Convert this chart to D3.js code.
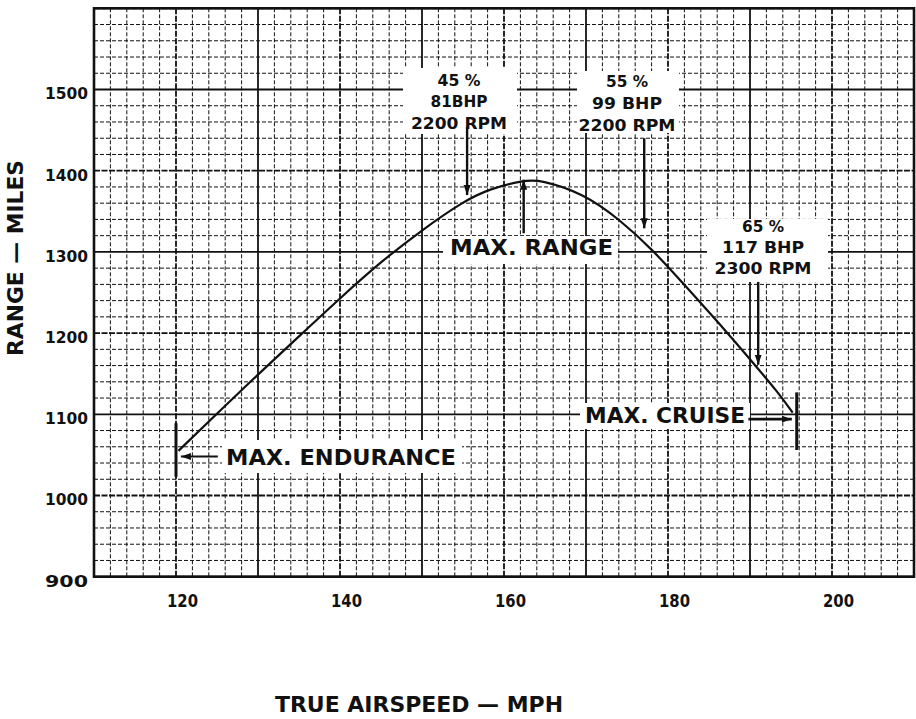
<!DOCTYPE html>
<html>
<head>
<meta charset="utf-8">
<script src="https://cdn.jsdelivr.net/npm/d3@7/dist/d3.min.js"></script>
<style>
  html, body { margin: 0; padding: 0; background: #fff; }
  svg { display: block; }
  text { font-family: "DejaVu Sans", sans-serif; font-weight: bold; fill: #111; }
</style>
</head>
<body>
<svg id="chart" width="916" height="719"></svg>
<script>
// True airspeed (mph) and range (miles) along the range curve
const airspeed = [120.3, 125, 130, 135, 140, 145, 150, 155, 158.3, 162.4, 164.4, 169.7, 174.1, 178.2, 182.3, 187.2, 190.4, 193.5, 195.2];
const rangeMiles = [1055, 1101, 1149, 1196, 1243, 1288, 1327, 1362, 1378, 1388, 1389, 1372, 1340, 1302, 1256, 1201, 1163, 1126, 1102];

// Axis tick labels
const speedTicks = [120, 140, 160, 180, 200];
const rangeTicks = [900, 1000, 1100, 1200, 1300, 1400, 1500];

// Power settings marked on the curve
const powerLines = [
  ["45 %", "81BHP", "2200  RPM"],
  ["55 %", "99  BHP", "2200  RPM"],
  ["65 %", "117  BHP", "2300  RPM"]
];
const powerSpeed = [155.5, 177.1, 191.0];          // arrow speed
const powerArrowFrom = [1454, 1440, 1263];         // arrow tail (miles)
const powerArrowTo = [1370, 1329, 1161];           // arrow tip (miles)

const svg = d3.select("#chart");
const x = d3.scaleLinear().domain([110, 210]).range([94, 914]);
const y = d3.scaleLinear().domain([900, 1600]).range([576.7, 8.3]);

// arrow head
svg.append("defs").append("marker")
  .attr("id", "head").attr("viewBox", "0 0 10 10")
  .attr("refX", 10).attr("refY", 5)
  .attr("markerWidth", 10).attr("markerHeight", 10)
  .attr("markerUnits", "userSpaceOnUse")
  .attr("orient", "auto")
  .append("path").attr("d", "M0,1.5 L10,5 L0,8.5 Z").attr("fill", "#111");

// ---- grid ----
const grid = svg.append("g");
const minorX = d3.range(110, 210.01, 2);
const minorY = d3.range(900, 1600.01, 20);
grid.selectAll(".vx").data(minorX).join("line")
  .attr("x1", d => x(d)).attr("x2", d => x(d))
  .attr("y1", y(1600)).attr("y2", y(900))
  .attr("stroke", "#111")
  .attr("stroke-width", d => d % 10 === 0 ? 1.8 : 1)
  .attr("stroke-dasharray", d => d % 10 === 0 ? (d % 20 === 10 ? null : "6,1.5") : "4,2");
grid.selectAll(".hy").data(minorY).join("line")
  .attr("x1", x(110)).attr("x2", x(210))
  .attr("y1", d => y(d)).attr("y2", d => y(d))
  .attr("stroke", "#111")
  .attr("stroke-width", d => d % 100 === 0 ? 1.8 : 1)
  .attr("stroke-dasharray", d => d % 100 === 0 ? (d % 200 === 100 ? null : "6,1.5") : "4,2");

// frame
svg.append("rect")
  .attr("x", x(110)).attr("y", y(1600))
  .attr("width", x(210) - x(110)).attr("height", y(900) - y(1600))
  .attr("fill", "none").attr("stroke", "#111").attr("stroke-width", 2.6);

// ---- axes (labels only) ----
const yAxis = svg.append("g").attr("transform", `translate(${x(110) - 6},0)`)
  .call(d3.axisLeft(y).tickValues(rangeTicks).tickSize(0).tickPadding(0).tickFormat(d3.format("d")));
yAxis.select(".domain").remove();
yAxis.selectAll("text")
  .attr("dy", "0.62em")
  .style("font-family", "'DejaVu Sans', sans-serif").style("font-weight", "bold")
  .style("font-size", "15px").attr("fill", "#111")
  .attr("textLength", 43).attr("lengthAdjust", "spacingAndGlyphs");

const xAxis = svg.append("g").attr("transform", `translate(6,${y(900) + 18})`)
  .call(d3.axisBottom(x).tickValues(speedTicks).tickSize(0).tickPadding(0).tickFormat(d3.format("d")));
xAxis.select(".domain").remove();
xAxis.selectAll("text")
  .style("font-family", "'DejaVu Sans', sans-serif").style("font-weight", "bold")
  .style("font-size", "17px").attr("fill", "#111")
  .attr("textLength", 31).attr("lengthAdjust", "spacingAndGlyphs");

// axis titles
svg.append("text")
  .attr("transform", `translate(23,258) rotate(-90)`)
  .attr("text-anchor", "middle")
  .style("font-size", "22px")
  .attr("textLength", 196).attr("lengthAdjust", "spacingAndGlyphs")
  .text("RANGE — MILES");
svg.append("text")
  .attr("x", 275).attr("y", 712)
  .style("font-size", "22px")
  .attr("textLength", 288).attr("lengthAdjust", "spacingAndGlyphs")
  .text("TRUE  AIRSPEED — MPH");

// ---- curve ----
const pts = airspeed.map((s, i) => [s, rangeMiles[i]]);
svg.append("path")
  .datum(pts)
  .attr("fill", "none").attr("stroke", "#111").attr("stroke-width", 2.2)
  .attr("d", d3.line().x(d => x(d[0])).y(d => y(d[1])).curve(d3.curveBasis));

// ---- annotations ----
const ann = svg.append("g");

function whiteBox(x0, y0, x1, y1) {
  ann.append("rect").attr("x", x0).attr("y", y0)
    .attr("width", x1 - x0).attr("height", y1 - y0).attr("fill", "#fff");
}
function label(txt, cx, base, size, len, anchor) {
  ann.append("text").attr("x", cx).attr("y", base)
    .attr("text-anchor", anchor || "middle")
    .style("font-size", size + "px")
    .attr("textLength", len).attr("lengthAdjust", "spacingAndGlyphs")
    .text(txt);
}
function arrow(x1, y1, x2, y2, w) {
  ann.append("line").attr("x1", x1).attr("y1", y1).attr("x2", x2).attr("y2", y2)
    .attr("stroke", "#111").attr("stroke-width", w || 2.2)
    .attr("marker-end", "url(#head)");
}
function bar(s, m0, m1) {
  ann.append("line").attr("x1", x(s)).attr("x2", x(s))
    .attr("y1", y(m0)).attr("y2", y(m1))
    .attr("stroke", "#111").attr("stroke-width", 3);
}

// power setting boxes
const boxes = [
  { x0: 403, y0: 68, x1: 517, y1: 134, cx: 459, base: [86, 107, 129], len: [43, 57, 96] },
  { x0: 577, y0: 71, x1: 679, y1: 133, cx: 627, base: [87, 109, 131], len: [42, 70, 97] },
  { x0: 707, y0: 219, x1: 828, y1: 282, cx: 763, base: [232, 253, 274], len: [42, 82, 97] }
];
boxes.forEach((b, i) => {
  whiteBox(b.x0, b.y0, b.x1, b.y1);
  powerLines[i].forEach((t, j) => label(t, b.cx, b.base[j], 16, b.len[j]));
  arrow(x(powerSpeed[i]), y(powerArrowFrom[i]), x(powerSpeed[i]), y(powerArrowTo[i]), 2.4);
});

// maximum range
whiteBox(443, 236, 618, 264);
label("MAX.  RANGE", 450, 255, 21, 163, "start");
arrow(x(162.4), y(1323), x(162.4), y(1389), 2.4);

// maximum endurance
whiteBox(222, 440, 462, 473);
label("MAX.  ENDURANCE", 226, 465, 22, 230, "start");
bar(120, 1023, 1089);
arrow(x(125.1), y(1048), x(120.6), y(1048), 2.2);

// maximum cruise
whiteBox(580, 403, 750, 429);
label("MAX.  CRUISE", 585, 423, 21, 160, "start");
bar(195.7, 1056, 1127);
arrow(x(189.8), y(1094), x(195.1), y(1094), 2.6);
</script>
</body>
</html>
